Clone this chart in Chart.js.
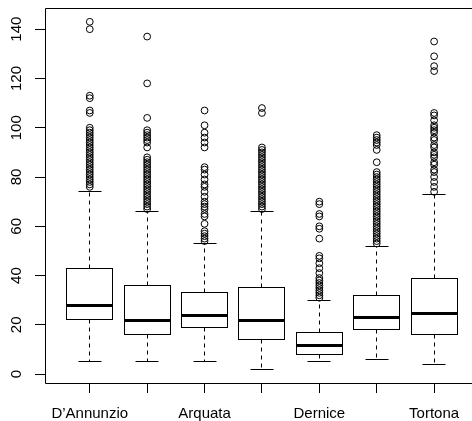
<!DOCTYPE html>
<html><head><meta charset="utf-8">
<script src="https://cdn.jsdelivr.net/npm/chart.js@4.4.1/dist/chart.umd.min.js"></script>
<style>html,body{margin:0;padding:0;background:#fff}</style>
</head><body>
<canvas id="c" width="472" height="421"></canvas>
<script>
// ---- data ----
const categories = ['D’Annunzio', '', 'Arquata', '', 'Dernice', '', 'Tortona'];
const whiskerLow  = [5, 5, 5, 2, 5, 6, 4];
const q1          = [22, 16, 19, 14, 8, 18, 16];
const median      = [28, 22, 24, 22, 12, 23, 25];
const q3          = [43, 36, 33, 35, 17, 32, 39];
const whiskerHigh = [74, 66, 53, 66, 30, 52, 73];
const outliers1 = [76,77,78,79,80,81,82,83,84,85,86,87,88,89,90,91,92,93,94,95,96,97,98,99,100,106,107,112,113,140,143];
const outliers2 = [67,68,69,70,71,72,73,74,75,76,77,78,79,80,81,82,83,84,85,86,87,88,92,94,95,96,97,98,99,104,118,137];
const outliers3 = [54,55,56,57,58,61,64,65,67,68,69,70,72,74,76,77,79,81,83,84,92,94,96,98,101,107];
const outliers4 = [67,68,69,70,71,72,73,74,75,76,77,78,79,80,81,82,83,84,85,86,87,88,89,90,91,92,106,108];
const outliers5 = [31,32,33,34,35,36,37,38,39,41,43,45,47,48,55,59,60,64,65,69,70];
const outliers6 = [53,54,55,56,57,58,59,60,61,62,63,64,65,66,67,68,69,70,71,72,73,74,75,76,77,78,79,80,81,82,86,91,93,94,95,96,97];
const outliers7 = [74,76,78,80,82,83,85,86,88,89,90,92,93,95,96,98,99,100,101,103,105,106,123,125,129,135];
const yTicks = [0, 20, 40, 60, 80, 100, 120, 140];

const outlierGroups = [outliers1, outliers2, outliers3, outliers4, outliers5, outliers6, outliers7];
const outlierPoints = outlierGroups.flatMap((arr, i) => arr.map(v => ({x: i + 1, y: v})));

const FONT = {family: '"Liberation Sans", Arial, Helvetica, sans-serif', size: 15};

const snap = v => Math.round(v - 0.5) + 0.5;

const boxPlugin = {
  id: 'rbox',
  beforeDatasetsDraw(chart) {
    const {ctx, scales: {x, y}, chartArea: ca} = chart;
    ctx.save();
    ctx.strokeStyle = '#000';
    ctx.lineWidth = 1;
    const line = (x1, y1, x2, y2) => { ctx.beginPath(); ctx.moveTo(x1, y1); ctx.lineTo(x2, y2); ctx.stroke(); };
    for (let i = 0; i < categories.length; i++) {
      const pos = i + 1;
      const cx = snap(x.getPixelForValue(pos));
      const left = snap(x.getPixelForValue(pos - 0.4));
      const right = snap(x.getPixelForValue(pos + 0.4));
      const capL = snap(x.getPixelForValue(pos - 0.2));
      const capR = snap(x.getPixelForValue(pos + 0.2));
      const yLo = snap(y.getPixelForValue(whiskerLow[i]));
      const yQ1 = snap(y.getPixelForValue(q1[i]));
      const yMed = Math.round(y.getPixelForValue(median[i])) + 0.5;
      const yQ3 = snap(y.getPixelForValue(q3[i]));
      const yHi = snap(y.getPixelForValue(whiskerHigh[i]));
      ctx.lineWidth = 1;
      ctx.setLineDash([4, 4]);
      line(cx, yQ3, cx, yHi);
      line(cx, yQ1, cx, yLo);
      ctx.setLineDash([]);
      line(capL, yHi, capR, yHi);
      line(capL, yLo, capR, yLo);
      ctx.fillStyle = '#fff';
      ctx.fillRect(left, yQ3, right - left, yQ1 - yQ3);
      ctx.strokeRect(left, yQ3, right - left, yQ1 - yQ3);
      ctx.lineWidth = 3;
      ctx.lineCap = 'butt';
      line(left, yMed, right, yMed);
    }
    // frame (top, left, bottom); right side lies beyond the picture
    ctx.lineWidth = 1;
    const l = snap(ca.left), t = snap(ca.top), b = snap(ca.bottom);
    line(ca.right + 2, t, l, t);
    line(l, t, l, b);
    line(l, b, ca.right + 2, b);
    ctx.restore();
  }
};

const noPad = s => { s.paddingTop = 0; s.paddingBottom = 0; s.paddingLeft = 0; s.paddingRight = 0; };

new Chart(document.getElementById('c'), {
  type: 'scatter',
  data: {
    datasets: [{
      data: outlierPoints,
      pointStyle: 'circle',
      pointRadius: 3.4,
      pointHoverRadius: 3.4,
      borderColor: '#000',
      backgroundColor: 'rgba(0,0,0,0)',
      pointBorderWidth: 1,
      borderWidth: 1
    }]
  },
  options: {
    responsive: false,
    animation: false,
    events: [],
    layout: {autoPadding: false, padding: {top: 8, right: 0, left: 0, bottom: 0}},
    plugins: {legend: {display: false}, tooltip: {enabled: false}},
    scales: {
      x: {
        type: 'linear',
        min: 0.22, max: 7.66,
        afterBuildTicks: s => { s.ticks = categories.map((_, i) => ({value: i + 1})); },
        ticks: {
          autoSkip: false, maxRotation: 0, minRotation: 0,
          callback: (v, i) => categories[i],
          font: FONT, color: '#000', padding: 12
        },
        grid: {drawOnChartArea: false, drawTicks: true, tickLength: 10, color: '#000', lineWidth: 1},
        border: {display: false},
        afterFit: s => { s.height = 38; noPad(s); }
      },
      y: {
        min: -3.6, max: 148.6,
        afterBuildTicks: s => { s.ticks = yTicks.map(v => ({value: v})); },
        ticks: {
          minRotation: 90, maxRotation: 90, crossAlign: 'center', padding: 6,
          font: FONT, color: '#000'
        },
        grid: {drawOnChartArea: false, drawTicks: true, tickLength: 10, color: '#000', lineWidth: 1},
        border: {display: false},
        afterFit: s => { s.width = 45; noPad(s); }
      }
    }
  },
  plugins: [boxPlugin]
});
</script>
</body></html>
